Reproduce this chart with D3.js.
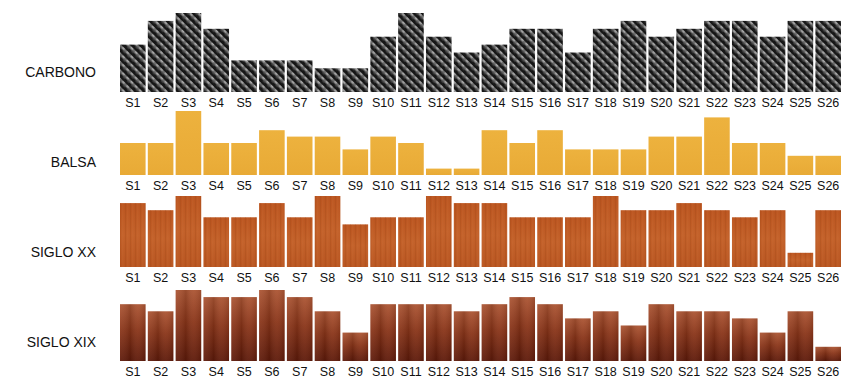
<!DOCTYPE html>
<html>
<head>
<meta charset="utf-8">
<script src="https://cdn.jsdelivr.net/npm/d3@7/dist/d3.min.js"></script>
<style>
  html, body { margin: 0; padding: 0; background: #fff; }
  svg { display: block; }
</style>
</head>
<body>
<svg id="chart" width="850" height="383"></svg>
<script>
const categories = ["S1","S2","S3","S4","S5","S6","S7","S8","S9","S10","S11","S12","S13","S14","S15","S16","S17","S18","S19","S20","S21","S22","S23","S24","S25","S26"];
const seriesNames = ["CARBONO", "BALSA", "SIGLO XX", "SIGLO XIX"];
const carbono  = [6,9,10,8,4,4,4,3,3,7,10,7,5,6,8,8,5,8,9,7,8,9,9,7,9,9];
const balsa    = [5,5,10,5,5,7,6,6,4,6,5,1,1,7,5,7,4,4,4,6,6,9,5,5,3,3];
const sigloXX  = [9,8,10,7,7,9,7,10,6,7,7,10,9,9,7,7,7,10,8,8,9,8,7,8,2,8];
const sigloXIX = [8,7,10,9,9,10,9,7,4,8,8,8,7,8,9,8,6,7,5,8,7,7,6,4,7,2];
const valueMax = 10;

const svg = d3.select("#chart");
const defs = svg.append("defs");

// Carbon fibre pattern
const pc = defs.append("pattern").attr("id","carbon").attr("patternUnits","userSpaceOnUse")
  .attr("width",6).attr("height",6).attr("patternTransform","rotate(45)");
pc.append("rect").attr("width",6).attr("height",6).attr("fill","#161616");
pc.append("rect").attr("x",0).attr("y",0).attr("width",6).attr("height",2.6).attr("fill","#707070");
pc.append("rect").attr("x",0).attr("y",0.3).attr("width",3).attr("height",1.2).attr("fill","#c0c0c0");
pc.append("rect").attr("x",3).attr("y",3).attr("width",3).attr("height",0.8).attr("fill","#3a3a3a");

// Balsa
const gb = defs.append("linearGradient").attr("id","balsaG").attr("x1",0).attr("y1",0).attr("x2",0).attr("y2",1);
gb.append("stop").attr("offset","0%").attr("stop-color","#EDB23E");
gb.append("stop").attr("offset","100%").attr("stop-color","#E8AA36");

// Siglo XX: orange-brown with vertical grain
const gxx = defs.append("linearGradient").attr("id","xxG").attr("x1",0).attr("y1",0).attr("x2",0).attr("y2",1);
gxx.append("stop").attr("offset","0%").attr("stop-color","#BB5520");
gxx.append("stop").attr("offset","50%").attr("stop-color","#C3612A");
gxx.append("stop").attr("offset","100%").attr("stop-color","#B95622");
const pxx = defs.append("pattern").attr("id","xxGrain").attr("patternUnits","userSpaceOnUse")
  .attr("width",5).attr("height",40);
pxx.append("rect").attr("x",0).attr("width",0.8).attr("height",40).attr("fill","#9c4415").attr("opacity",0.35);
pxx.append("rect").attr("x",2.6).attr("width",0.6).attr("height",40).attr("fill","#d98a50").attr("opacity",0.25);

// Siglo XIX: reddish mahogany gradient
const gxix = defs.append("linearGradient").attr("id","xixG").attr("x1",0).attr("y1",0).attr("x2",0).attr("y2",1);
gxix.append("stop").attr("offset","0%").attr("stop-color","#AC5533");
gxix.append("stop").attr("offset","45%").attr("stop-color","#8A3519");
gxix.append("stop").attr("offset","100%").attr("stop-color","#5E1A0A");
const gxixH = defs.append("linearGradient").attr("id","xixH").attr("x1",0).attr("y1",0).attr("x2",1).attr("y2",0);
gxixH.append("stop").attr("offset","0%").attr("stop-color","#ffffff").attr("stop-opacity",0.06);
gxixH.append("stop").attr("offset","40%").attr("stop-color","#000000").attr("stop-opacity",0.12);
gxixH.append("stop").attr("offset","70%").attr("stop-color","#ffffff").attr("stop-opacity",0.05);
gxixH.append("stop").attr("offset","100%").attr("stop-color","#000000").attr("stop-opacity",0.1);

const rows = [
  { name: seriesNames[0], values: carbono,  base: 92,    top: 13,  labelY: 73,  fills: ["url(#carbon)"] },
  { name: seriesNames[1], values: balsa,    base: 175,   top: 111, labelY: 163, fills: ["url(#balsaG)"] },
  { name: seriesNames[2], values: sigloXX,  base: 267,   top: 196, labelY: 253, fills: ["url(#xxG)", "url(#xxGrain)"] },
  { name: seriesNames[3], values: sigloXIX, base: 361,   top: 290, labelY: 343, fills: ["url(#xixG)", "url(#xixH)"] }
];

const x = d3.scaleBand().domain(categories).range([120, 841]).paddingInner(0.08).paddingOuter(0);

rows.forEach(r => {
  const y = d3.scaleLinear().domain([0, valueMax]).range([r.base, r.top]);
  const g = svg.append("g");
  r.fills.forEach(f => {
    g.append("g").selectAll("rect").data(categories).join("rect")
      .attr("x", d => x(d))
      .attr("width", x.bandwidth())
      .attr("y", (d,i) => y(r.values[i]))
      .attr("height", (d,i) => y(0) - y(r.values[i]))
      .attr("fill", f);
  });
  const ax = svg.append("g").attr("transform", `translate(0,${r.base})`)
    .call(d3.axisBottom(x).tickSize(0).tickPadding(6));
  ax.select(".domain").remove();
  ax.selectAll("text").attr("font-family","'Liberation Sans', Arial, sans-serif")
    .attr("font-size", 12.5).attr("fill", "#111");
  svg.append("text").attr("x", 96).attr("y", r.labelY)
    .attr("text-anchor","end").attr("dominant-baseline","middle")
    .attr("font-family","'Liberation Sans', Arial, sans-serif")
    .attr("font-size", 14).attr("fill","#111").text(r.name);
});
</script>
</body>
</html>
